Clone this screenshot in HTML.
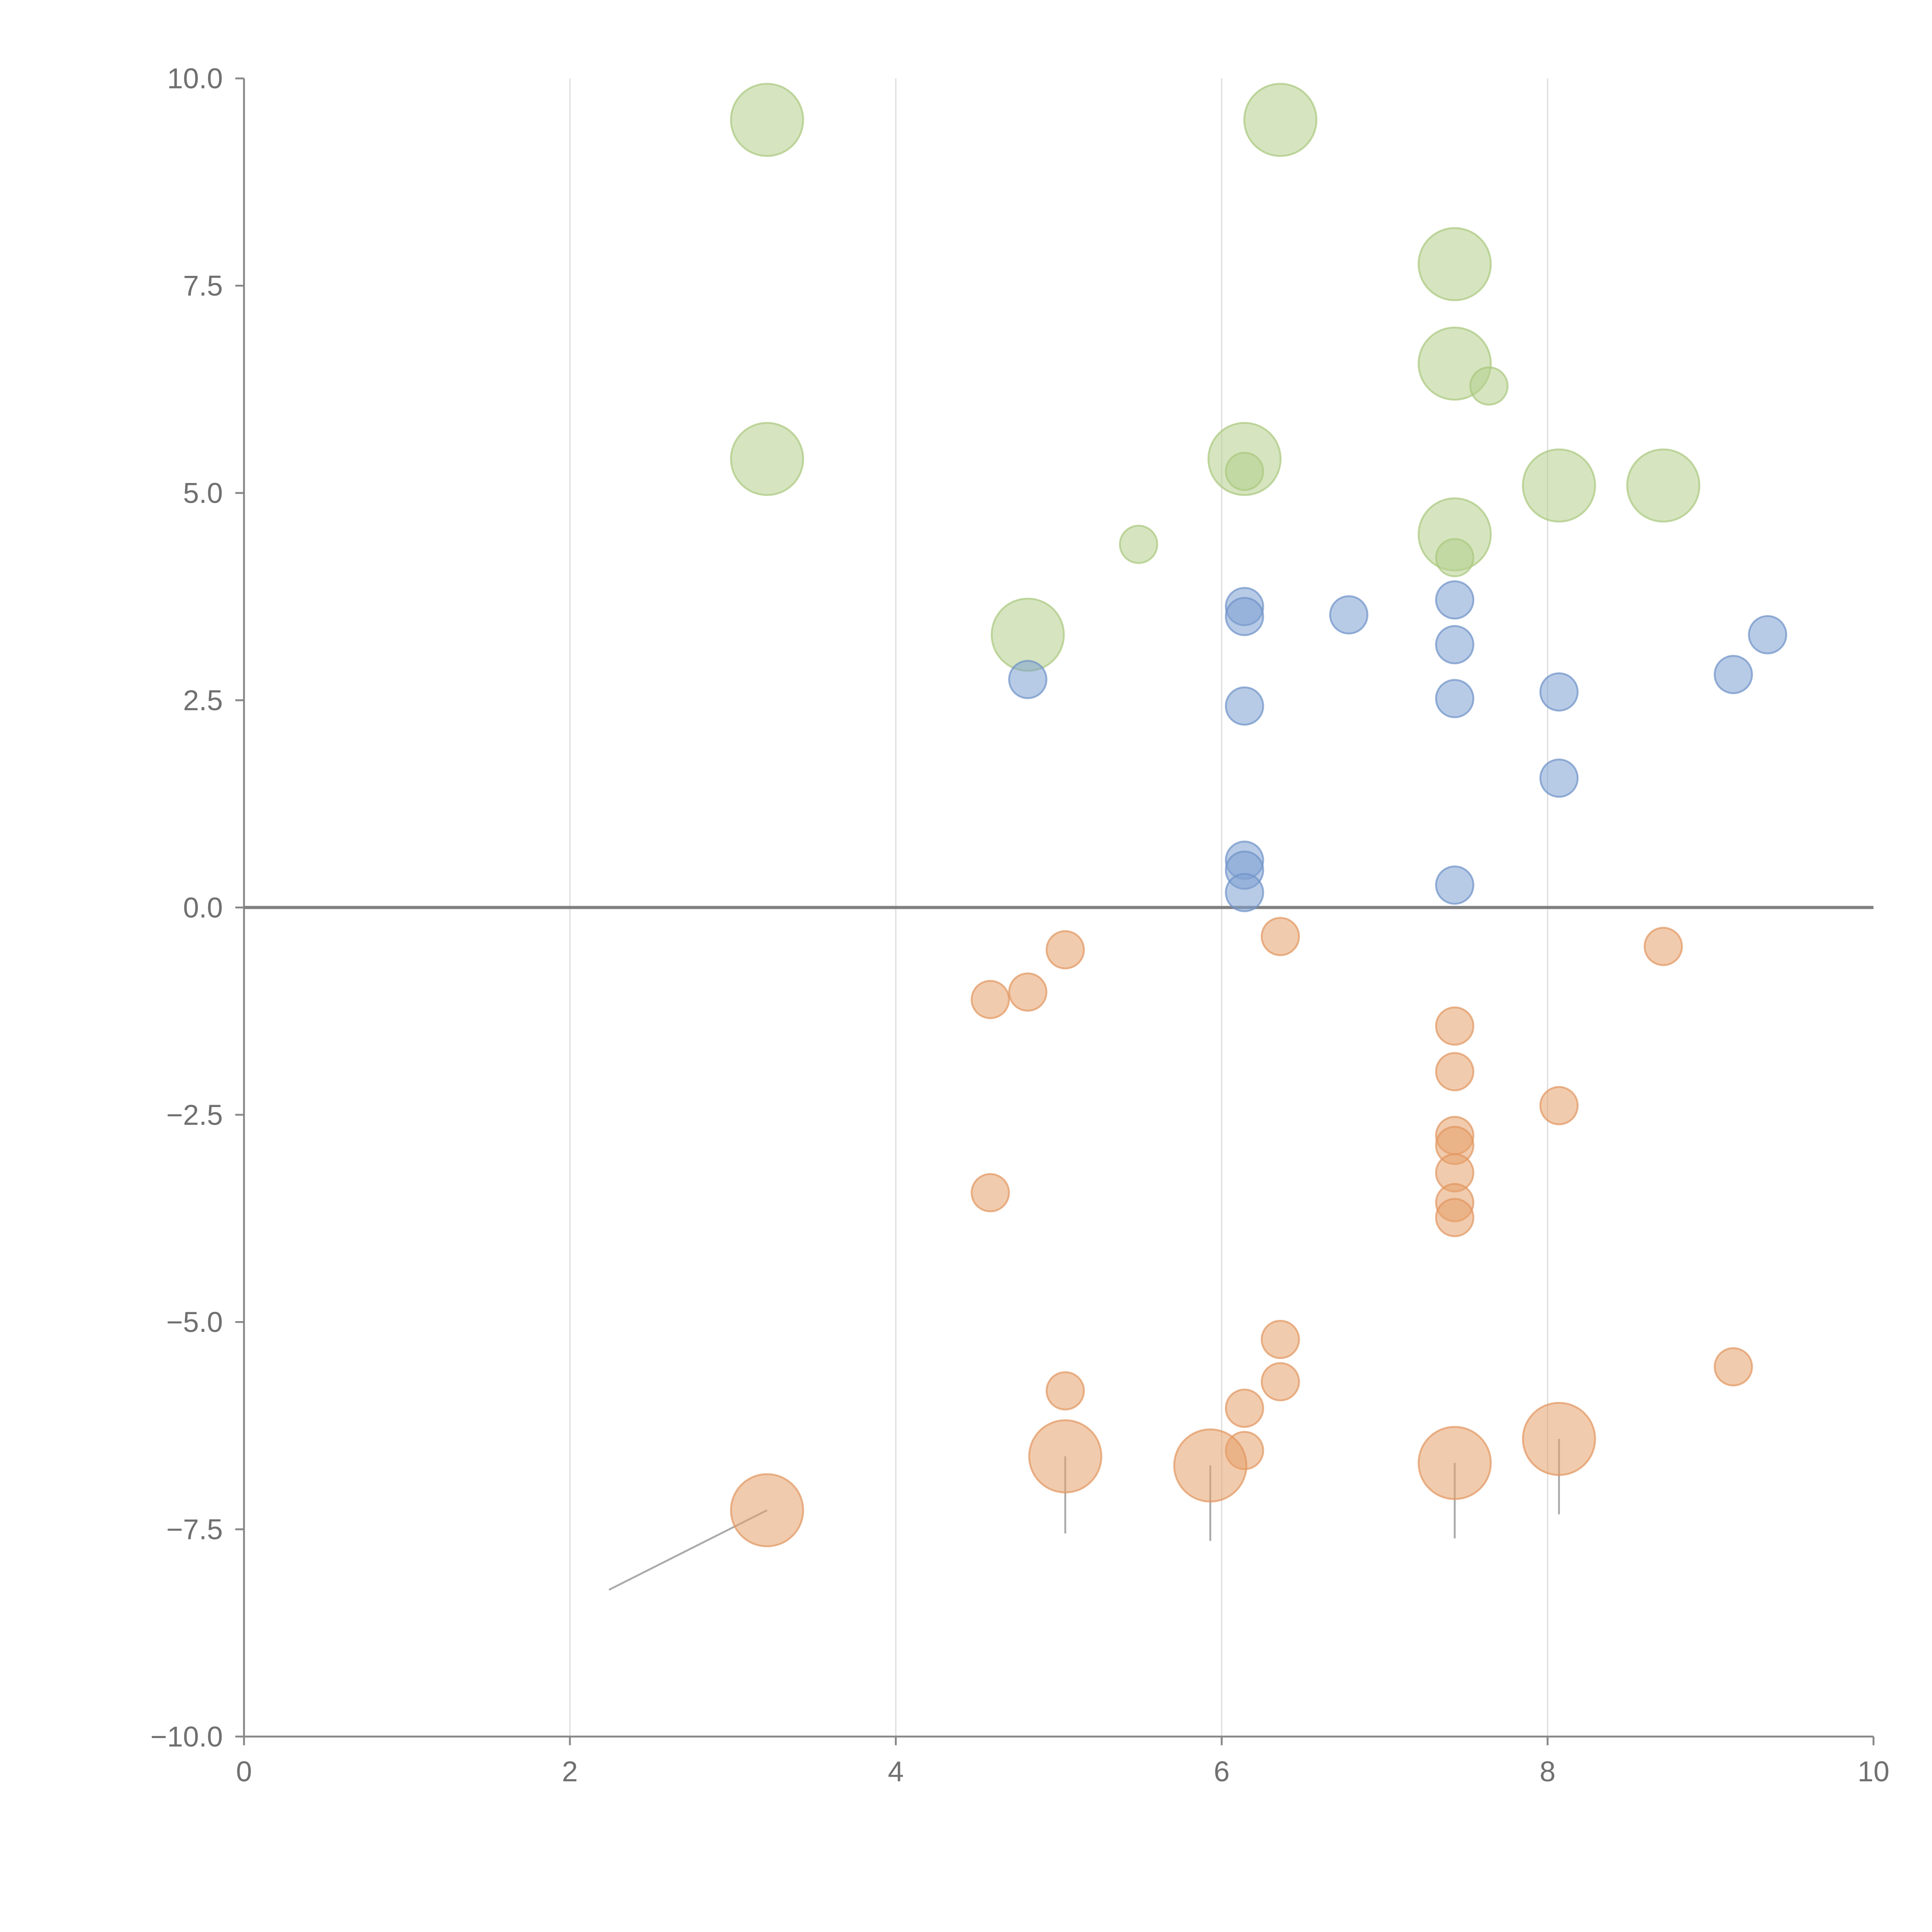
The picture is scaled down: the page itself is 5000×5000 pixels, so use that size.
<!DOCTYPE html>
<html><head><meta charset="utf-8"><style>html,body{margin:0;padding:0;background:#fff}svg{display:block}</style></head>
<body>
<svg id="chart" width="5000" height="5000" viewBox="0 0 1552 1552" xmlns="http://www.w3.org/2000/svg" font-family="Liberation Sans, sans-serif">
<g id="grid"></g>
<g id="axes"></g>
<g id="leaders"></g>
<g id="marks"></g>
</svg>
<script>
const xTicks=[0,2,4,6,8,10];
const yTicks=[10,7.5,5,2.5,0,-2.5,-5,-7.5,-10];
const yTickLabels=["10.0","7.5","5.0","2.5","0.0","\u22122.5","\u22125.0","\u22127.5","\u221210.0"];
const greenBigX=[3.21,6.36,7.43,7.43,3.21,6.14,8.07,8.71,7.43,4.81];
const greenBigY=[9.5,9.5,7.76,6.56,5.41,5.41,5.09,5.09,4.5,3.29];
const greenSmallX=[7.64,6.14,5.49,7.43];
const greenSmallY=[6.29,5.26,4.38,4.22];
const blueX=[6.14,6.14,6.78,7.43,7.43,4.81,6.14,7.43,8.07,8.07,9.14,9.35,6.14,6.14,6.14,7.43];
const blueY=[3.63,3.51,3.53,3.71,3.17,2.75,2.43,2.52,2.6,1.56,2.81,3.29,0.57,0.45,0.18,0.27];
const orangeSmallX=[6.36,5.04,8.71,4.81,4.58,7.43,7.43,8.07,7.43,7.43,7.43,7.43,7.43,4.58,6.36,6.36,5.04,6.14,6.14,9.14];
const orangeSmallY=[-0.35,-0.51,-0.47,-1.02,-1.11,-1.43,-1.98,-2.39,-2.75,-2.87,-3.2,-3.56,-3.74,-3.44,-5.21,-5.72,-5.83,-6.04,-6.55,-5.54];
const orangeBigX=[3.21,5.04,5.93,7.43,8.07];
const orangeBigY=[-7.27,-6.62,-6.73,-6.7,-6.41];
const leaderX1=[2.24,5.04,5.93,7.43,8.07];
const leaderY1=[-8.23,-7.55,-7.64,-7.61,-7.32];

const X=v=>196+v*130.9;
const Y=v=>729-v*66.6;
const NS="http://www.w3.org/2000/svg";
function mk(parent,tag,attrs){const e=document.createElementNS(NS,tag);for(const k in attrs)e.setAttribute(k,attrs[k]);document.getElementById(parent).appendChild(e);return e;}

[2,4,6,8].forEach(t=>{const l=mk('grid','line',{x1:X(t),x2:X(t),y1:Y(10),y2:Y(-10),stroke:'#dddddd','stroke-width':1});

});

let a=mk('axes','line',{x1:X(0),x2:X(0),y1:Y(10),y2:Y(-10),stroke:'#888','stroke-width':1.5});


a=mk('axes','line',{x1:X(0),x2:X(10),y1:Y(-10),y2:Y(-10),stroke:'#888','stroke-width':1.5});


a=mk('axes','line',{x1:X(0),x2:X(10),y1:Y(0),y2:Y(0),stroke:'#808080','stroke-width':2.5});


xTicks.forEach(t=>{const l=mk('axes','line',{x1:X(t),x2:X(t),y1:Y(-10),y2:Y(-10)+7,stroke:'#888','stroke-width':1.5});


const tx=mk('axes','text',{x:X(t),y:Y(-10)+36,'text-anchor':'middle','font-size':23,fill:'#707070'});tx.textContent=t;

});
yTicks.forEach((t,i)=>{const l=mk('axes','line',{x1:X(0)-7,x2:X(0),y1:Y(t),y2:Y(t),stroke:'#888','stroke-width':1.5});


const tx=mk('axes','text',{x:X(0)-17,y:Y(t)+8,'text-anchor':'end','font-size':23,fill:'#707070'});tx.textContent=yTickLabels[i];

});

leaderX1.forEach((v,i)=>{const l=mk('leaders','line',{x1:X(v),y1:Y(leaderY1[i]),x2:X(orangeBigX[i]),y2:Y(orangeBigY[i]),stroke:'#aaa','stroke-width':1.5});

});

function bubbles(xs,ys,r,fill,stroke,name){xs.forEach((v,i)=>{const c=mk('marks','circle',{cx:X(v),cy:Y(ys[i]),r:r,fill:fill,stroke:stroke,'stroke-width':1.5});

});}
bubbles(greenBigX,greenBigY,29,'rgba(180,208,140,0.55)','rgba(170,200,125,0.7)','green-bubble-large');
bubbles(greenSmallX,greenSmallY,15,'rgba(180,208,140,0.55)','rgba(170,200,125,0.7)','green-bubble-small');
bubbles(blueX,blueY,15,'rgba(125,160,210,0.55)','rgba(110,145,200,0.7)','blue-bubble');
bubbles(orangeSmallX,orangeSmallY,15,'rgba(230,160,105,0.55)','rgba(225,150,95,0.7)','orange-bubble-small');
bubbles(orangeBigX,orangeBigY,29,'rgba(230,160,105,0.55)','rgba(225,150,95,0.7)','orange-bubble-large');
</script>
</body></html>
